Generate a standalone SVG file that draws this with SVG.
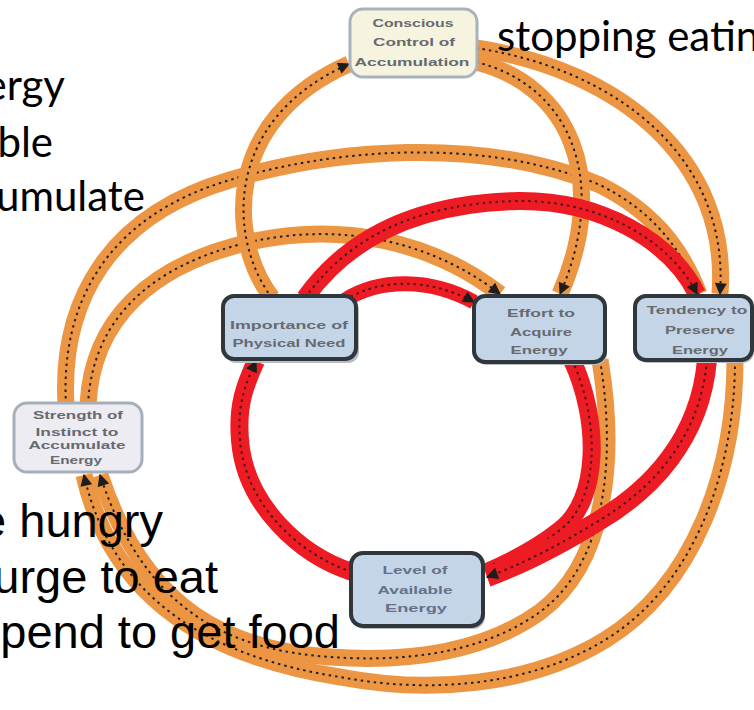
<svg xmlns="http://www.w3.org/2000/svg" width="754" height="710" viewBox="0 0 754 710">
  <defs>
    <marker id="ah" viewBox="0 0 10 10" refX="9" refY="5" markerWidth="13" markerHeight="12" markerUnits="userSpaceOnUse" orient="auto">
      <path d="M0,0 L10,5 L0,10 z" fill="#1f1c1c"/>
    </marker>
    <style>
      .bo { fill: none; stroke: #ec9643; stroke-width: 17; }
      .br { fill: none; stroke: #ed1c24; stroke-width: 18; }
      .dt { fill: none; stroke: #231f20; stroke-width: 2; stroke-dasharray: 2.5 4; marker-end: url(#ah); }
      .dr { fill: none; stroke: #4a1212; stroke-width: 2; stroke-dasharray: 2.5 4; marker-end: url(#ah); }
      .nd { stroke-width: 4; }
      .blue { fill: #c4d5e8; stroke: #30373c; }
      .soft { fill: #f6f4de; stroke: #a8b2bc; stroke-width: 3; }
      .grey { fill: #ececf2; stroke: #a5afba; stroke-width: 3; }
      .shadow { fill: #b9bcc0; }
      .lbl { font-family: "Liberation Sans", Arial, sans-serif; font-size: 11px; font-weight: bold; fill: #676a70; text-anchor: middle; }
      .cal { font-family: Lato, "Liberation Sans", sans-serif; font-size: 42px; fill: #000; }
      .ari { font-family: "Liberation Sans", Arial, sans-serif; font-size: 47px; fill: #000; }
    </style>
  </defs>

  <!-- connectors: orange bands first, red loops on top -->
  <g id="connectors">
    <g id="o1">
      <path class="bo" d="M66,405 C60,300 110,215 230,180 C330,150 480,135 600,185 C650,210 680,245 699,294"/>
      <path class="dt" d="M66,405 C60,300 110,215 230,180 C330,150 480,135 600,185 C650,210 680,245 699,294"/>
    </g>
    <g id="o2">
      <path class="bo" d="M88,405 C92,320 150,265 250,242 C340,222 430,240 500,294"/>
      <path class="dt" d="M88,405 C92,320 150,265 250,242 C340,222 430,240 500,294"/>
    </g>
    <g id="o3">
      <path class="bo" d="M272,298 C228,240 222,120 349,64"/>
      <path class="dt" d="M272,298 C228,240 222,120 349,64"/>
    </g>
    <g id="o4">
      <path class="bo" d="M476,62 C570,85 610,180 560,294"/>
      <path class="dt" d="M476,62 C570,85 610,180 560,294"/>
    </g>
    <g id="o5">
      <path class="bo" d="M476,48 C620,70 730,160 720,294"/>
      <path class="dt" d="M476,48 C620,70 730,160 720,294"/>
    </g>
    <g id="o6">
      <path class="bo" d="M600,360 C615,450 610,560 540,612 C480,655 400,662 330,657 C230,650 145,612 100,475"/>
      <path class="dt" d="M600,360 C615,450 610,560 540,612 C480,655 400,662 330,657 C230,650 145,612 100,475"/>
    </g>
    <g id="o7">
      <path class="bo" d="M735,360 C735,470 695,585 605,640 C530,686 430,694 340,677 C230,660 115,612 84,475"/>
      <path class="dt" d="M735,360 C735,470 695,585 605,640 C530,686 430,694 340,677 C230,660 115,612 84,475"/>
    </g>

    <g id="r1">
      <path class="br" style="stroke-width:15" d="M345,300 C380,278 430,278 474,302"/>
      <path class="dr" d="M345,300 C380,278 430,278 474,302"/>
    </g>
    <g id="r2">
      <path class="br" d="M305,298 C350,235 420,203 518,201 C600,200 670,240 697,294"/>
      <path class="dr" d="M305,298 C350,235 420,203 518,201 C600,200 670,240 697,294"/>
    </g>
    <g id="r3">
      <path class="br" d="M572,360 C600,420 600,500 560,530 C535,550 510,562 487,572"/>
      <path class="dr" d="M572,360 C600,420 600,500 560,530 C535,550 510,562 487,572"/>
    </g>
    <g id="r4">
      <path class="br" style="stroke-width:20" d="M707,360 C700,440 650,490 600,520 C560,545 520,565 487,577"/>
      <path class="dr" d="M707,360 C700,440 650,490 600,520 C560,545 520,565 487,577"/>
    </g>
    <g id="r5">
      <path class="br" d="M352,572 C300,555 245,505 240,440 C237,405 245,385 256,361"/>
      <path class="dr" d="M352,572 C300,555 245,505 240,440 C237,405 245,385 256,361"/>
    </g>
  </g>

  <!-- nodes -->
  <g id="conscious-control">
    <rect class="soft" x="350" y="9" width="127" height="68" rx="13"/>
    <text class="lbl" x="413" y="27" textLength="81" lengthAdjust="spacingAndGlyphs">Conscious</text>
    <text class="lbl" x="414" y="46" textLength="82" lengthAdjust="spacingAndGlyphs">Control of</text>
    <text class="lbl" x="412" y="66" textLength="115" lengthAdjust="spacingAndGlyphs">Accumulation</text>
  </g>
  <g id="physical-need">
    <rect class="shadow" x="225" y="299" width="134" height="64" rx="11"/>
    <rect class="blue nd" x="223" y="296" width="133" height="63" rx="11"/>
    <text class="lbl" x="289" y="329" textLength="118" lengthAdjust="spacingAndGlyphs">Importance of</text>
    <text class="lbl" x="289" y="347" textLength="113" lengthAdjust="spacingAndGlyphs">Physical Need</text>
  </g>
  <g id="effort">
    <rect class="shadow" x="476" y="299" width="131" height="66" rx="11"/>
    <rect class="blue nd" x="474" y="296" width="131" height="66" rx="11"/>
    <text class="lbl" x="541" y="317" textLength="68" lengthAdjust="spacingAndGlyphs">Effort to</text>
    <text class="lbl" x="541" y="336" textLength="62" lengthAdjust="spacingAndGlyphs">Acquire</text>
    <text class="lbl" x="539" y="354" textLength="57" lengthAdjust="spacingAndGlyphs">Energy</text>
  </g>
  <g id="preserve">
    <rect class="shadow" x="637" y="299" width="117" height="64" rx="11"/>
    <rect class="blue nd" x="635" y="296" width="117" height="64" rx="11"/>
    <text class="lbl" x="697" y="314" textLength="101" lengthAdjust="spacingAndGlyphs">Tendency to</text>
    <text class="lbl" x="700" y="334" textLength="70" lengthAdjust="spacingAndGlyphs">Preserve</text>
    <text class="lbl" x="700" y="354" textLength="56" lengthAdjust="spacingAndGlyphs">Energy</text>
  </g>
  <g id="available">
    <rect class="shadow" x="353" y="556" width="132" height="73" rx="12"/>
    <rect class="blue nd" x="351" y="553" width="132" height="73" rx="12"/>
    <text class="lbl" x="415" y="574" textLength="65" lengthAdjust="spacingAndGlyphs" style="fill:#66708a">Level of</text>
    <text class="lbl" x="415" y="594" textLength="75" lengthAdjust="spacingAndGlyphs" style="fill:#66708a">Available</text>
    <text class="lbl" x="416" y="612" textLength="62" lengthAdjust="spacingAndGlyphs" style="fill:#66708a">Energy</text>
  </g>
  <g id="instinct">
    <rect class="grey" x="14" y="403" width="128" height="69" rx="13"/>
    <text class="lbl" x="78" y="419" textLength="90" lengthAdjust="spacingAndGlyphs">Strength of</text>
    <text class="lbl" x="77" y="436" textLength="83" lengthAdjust="spacingAndGlyphs">Instinct to</text>
    <text class="lbl" x="77" y="449" textLength="97" lengthAdjust="spacingAndGlyphs">Accumulate</text>
    <text class="lbl" x="76" y="464" textLength="52" lengthAdjust="spacingAndGlyphs">Energy</text>
  </g>

  <!-- slide text around the diagram -->
  <g id="notes">
    <text class="cal" x="497" y="51">stopping eatin</text>
    <text class="cal" x="65" y="100" text-anchor="end">ergy</text>
    <text class="cal" x="53" y="157" text-anchor="end">ble</text>
    <text class="cal" x="145" y="211" text-anchor="end">umulate</text>
    <text class="ari" x="163" y="537" text-anchor="end">e hungry</text>
    <text class="ari" x="218" y="593" text-anchor="end">urge to eat</text>
    <text class="ari" x="340" y="648" text-anchor="end">pend to get food</text>
  </g>
</svg>
